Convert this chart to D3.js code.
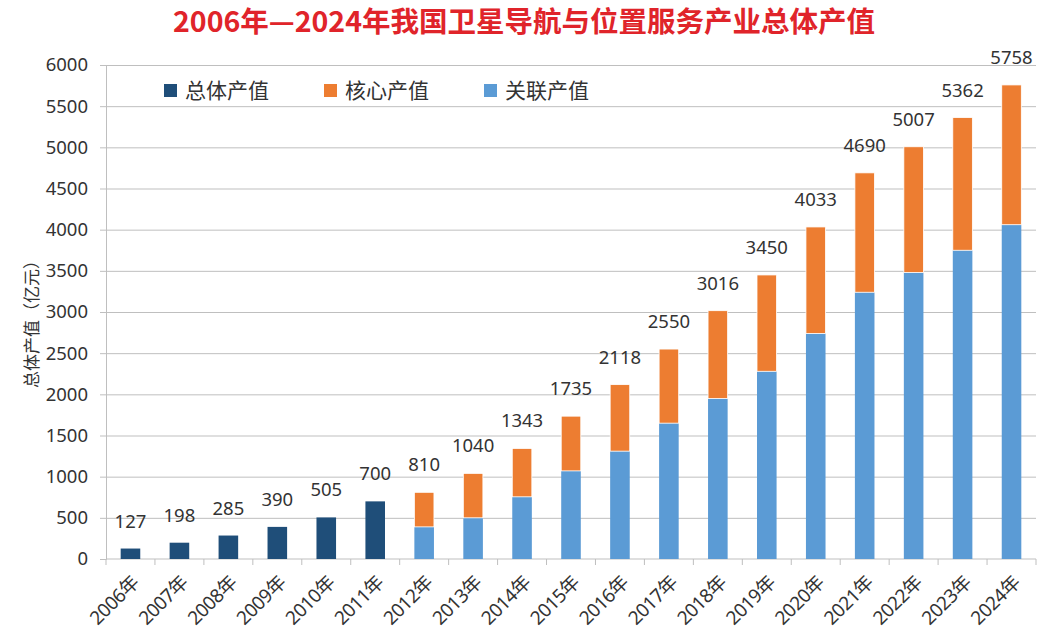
<!DOCTYPE html>
<html>
<head>
<meta charset="UTF-8">
<script src="https://d3js.org/d3.v7.min.js"></script>
<style>
  body { margin: 0; background: #fff; }
  text { font-family: "Noto Sans", "Noto Sans CJK SC", sans-serif; fill: #333; }
</style>
</head>
<body>
<svg width="1045" height="638"></svg>
<script>
// data
var years = ["2006年","2007年","2008年","2009年","2010年","2011年","2012年","2013年","2014年","2015年",
             "2016年","2017年","2018年","2019年","2020年","2021年","2022年","2023年","2024年"];
var totalValue = [127,198,285,390,505,700,810,1040,1343,1735,2118,2550,3016,3450,4033,4690,5007,5362,5758];
// split only published from 2012 on
var relatedValue = [null,null,null,null,null,null,390,500,755,1070,1310,1650,1950,2280,2740,3240,3480,3750,4060];
var coreValue    = [null,null,null,null,null,null,420,540,588,665,808,900,1066,1170,1293,1450,1527,1612,1698];
var yTicks = [0,500,1000,1500,2000,2500,3000,3500,4000,4500,5000,5500,6000];
var legendNames = ["总体产值","核心产值","关联产值"];

var colors = { total: "#1f4e79", core: "#ed7d31", related: "#5b9bd5" };

var plotLeft = 106, plotRight = 1036, plotTop = 65, plotBottom = 559;
var svg = d3.select("svg");

var x = d3.scaleBand().domain(years).range([plotLeft, plotRight]).paddingInner(0.6).paddingOuter(0.3);
var y = d3.scaleLinear().domain([0, 6000]).range([plotBottom, plotTop]);

// title
svg.append("text")
  .attr("x", 524).attr("y", 32)
  .attr("text-anchor", "middle")
  .style("font-family", "'Noto Sans CJK SC', sans-serif")
  .style("font-size", "28.5px").style("font-weight", "bold")
  .style("fill", "#e0242a")
  .text("2006年—2024年我国卫星导航与位置服务产业总体产值");

// gridlines + y axis
var yAxis = svg.append("g")
  .attr("transform", "translate(" + plotLeft + ",0)")
  .call(d3.axisLeft(y).tickValues(yTicks).tickSize(6).tickPadding(12).tickFormat(d3.format("d")));
yAxis.select(".domain").attr("stroke", "#bfbfbf");
yAxis.selectAll(".tick line").attr("stroke", "#bfbfbf");
yAxis.selectAll(".tick text").style("font-size", "18.5px").style("fill", "#333");
yAxis.selectAll(".tick").filter(function(d) { return d > 0; })
  .append("line").attr("x1", 0).attr("x2", plotRight - plotLeft).attr("stroke", "#bfbfbf");

// x axis with ticks between categories
var xAxis = svg.append("g").attr("transform", "translate(0," + plotBottom + ")");
xAxis.append("line").attr("x1", plotLeft).attr("x2", plotRight).attr("stroke", "#bfbfbf");
xAxis.selectAll(".xt").data(d3.range(years.length + 1)).enter().append("line")
  .attr("x1", function(i) { return plotLeft + i * x.step(); })
  .attr("x2", function(i) { return plotLeft + i * x.step(); })
  .attr("y1", 0).attr("y2", 6).attr("stroke", "#bfbfbf");
xAxis.selectAll(".xl").data(years).enter().append("text")
  .attr("transform", function(d) {
    return "translate(" + (x(d) + x.bandwidth() / 2 + 5) + ",20) rotate(-45)";
  })
  .attr("text-anchor", "end")
  .attr("dy", "0.35em")
  .style("font-size", "19px")
  .attr("letter-spacing", "-0.5")
  .text(function(d) { return d; });

// bars
var bars = svg.append("g");
years.forEach(function(yr, i) {
  if (relatedValue[i] == null) {
    bars.append("rect")
      .attr("x", x(yr)).attr("width", x.bandwidth())
      .attr("y", y(totalValue[i])).attr("height", y(0) - y(totalValue[i]))
      .attr("fill", colors.total);
  } else {
    bars.append("rect")
      .attr("x", x(yr)).attr("width", x.bandwidth())
      .attr("y", y(relatedValue[i])).attr("height", y(0) - y(relatedValue[i]))
      .attr("fill", colors.related);
    bars.append("rect")
      .attr("x", x(yr)).attr("width", x.bandwidth())
      .attr("y", y(relatedValue[i] + coreValue[i])).attr("height", y(relatedValue[i]) - y(relatedValue[i] + coreValue[i]))
      .attr("fill", colors.core)
      .attr("stroke", "#fff").attr("stroke-width", 0.8);
  }
});

// value labels
svg.append("g").selectAll("text").data(years).enter().append("text")
  .attr("x", function(d) { return x(d) + x.bandwidth() / 2; })
  .attr("y", function(d, i) { return y(totalValue[i]) - 21; })
  .attr("text-anchor", "middle")
  .style("font-size", "18.5px")
  .text(function(d, i) { return totalValue[i]; });

// y title
svg.append("text")
  .attr("transform", "translate(38,320) rotate(-90)")
  .attr("text-anchor", "middle")
  .style("font-size", "17px")
  .text("总体产值（亿元）");

// legend
var legendX = [164, 324, 484];
var legendCol = [colors.total, colors.core, colors.related];
var lg = svg.append("g");
legendNames.forEach(function(name, i) {
  lg.append("rect").attr("x", legendX[i]).attr("y", 84).attr("width", 13).attr("height", 13).attr("fill", legendCol[i]);
  lg.append("text").attr("x", legendX[i] + 21).attr("y", 98)
    .style("font-size", "21px").text(name);
});
</script>
</body>
</html>
